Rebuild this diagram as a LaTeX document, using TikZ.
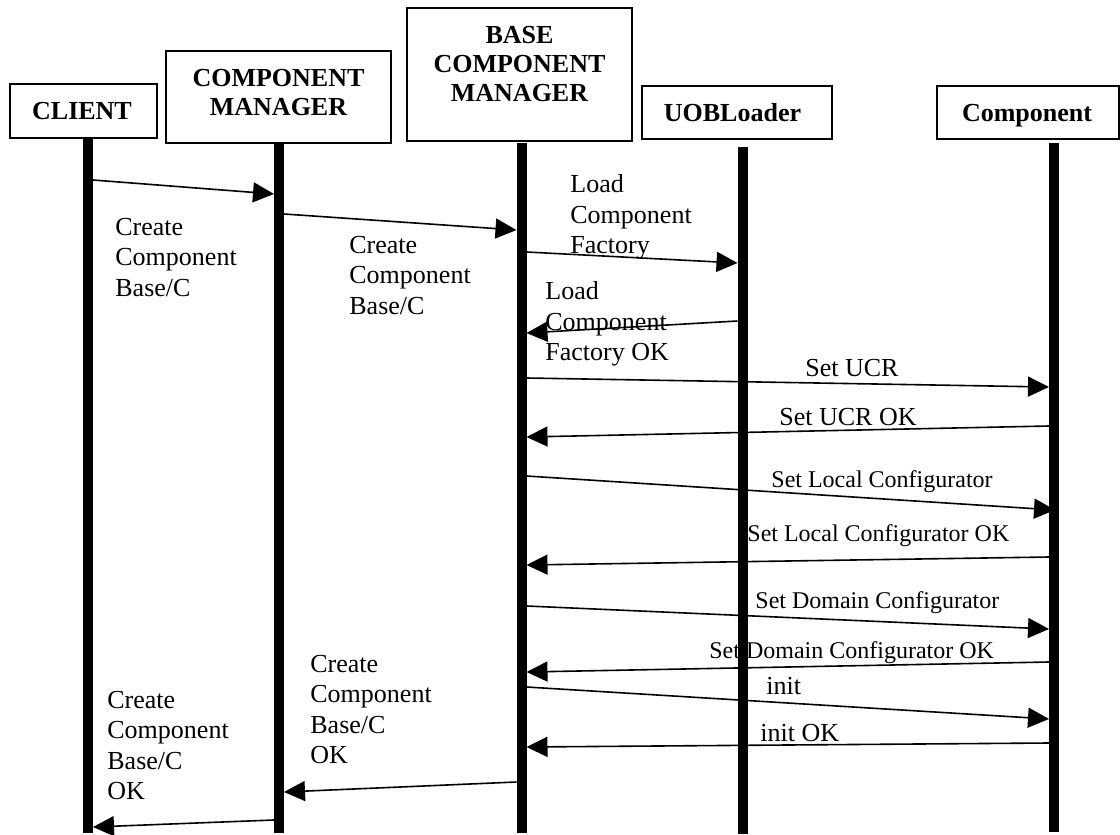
\documentclass[tikz,border=0pt]{standalone}
\usepackage{fontspec}
\setmainfont{Liberation Serif}
\usetikzlibrary{arrows.meta}
\begin{document}
\begin{tikzpicture}[x=0.5pt,y=-0.5pt,
  box/.style={draw, line width=0.8pt, inner sep=0pt},
  hdr/.style={font=\fontsize{13}{14.5}\selectfont\bfseries, align=center, inner sep=0pt},
  lbl/.style={font=\fontsize{13}{15.25}\selectfont, align=left, inner sep=0pt, anchor=north west},
  msg/.style={font=\fontsize{13}{15}\selectfont, inner sep=0pt, anchor=base west},
  msgs/.style={font=\fontsize{12}{14}\selectfont, inner sep=0pt, anchor=base west},
  life/.style={line width=5pt},
  call/.style={line width=0.8pt, -{Triangle[length=10.5pt,width=10pt]}}
]
\useasboundingbox (0,0) rectangle (1120,835);

% header boxes
\node[box, minimum width=73.5pt, minimum height=27pt] (client) at (83.5,111) {};
\node[box, minimum width=112.5pt, minimum height=46pt] (cm) at (278.5,97) {};
\node[box, minimum width=112.5pt, minimum height=66.5pt] (bcm) at (519.5,74.5) {};
\node[box, minimum width=95pt, minimum height=26.5pt] (uob) at (737,112.5) {};
\node[box, minimum width=91pt, minimum height=26.5pt] (comp) at (1028,112.5) {};

\node[hdr, anchor=base] (clientT) at (82,119) {CLIENT};
\node[hdr, anchor=north] (cmT) at (278.5,69) {COMPONENT\\MANAGER};
\node[hdr, anchor=north] (bcmT) at (519.5,26) {BASE\\COMPONENT\\MANAGER};
\node[hdr, anchor=base] (uobT) at (732.5,121) {UOBLoader};
\node[hdr, anchor=base] (compT) at (1027,121) {Component};

% lifelines
\coordinate (lc1) at (88,138);    \coordinate (lc2) at (88,833);
\coordinate (lm1) at (279,143);   \coordinate (lm2) at (279,833);
\coordinate (lb1) at (521.5,143); \coordinate (lb2) at (521.5,833);
\coordinate (lu1) at (742.5,147); \coordinate (lu2) at (742.5,834);
\coordinate (lp1) at (1054,143);  \coordinate (lp2) at (1054,832);
\draw[life] (lc1) -- (lc2);
\draw[life] (lm1) -- (lm2);
\draw[life] (lb1) -- (lb2);
\draw[life] (lu1) -- (lu2);
\draw[life] (lp1) -- (lp2);

% message end points
\coordinate (m1a) at (93,180);      \coordinate (m1b) at (274,194);
\coordinate (m2a) at (284,214);     \coordinate (m2b) at (516.5,230);
\coordinate (m3a) at (526.5,252);   \coordinate (m3b) at (737.5,263);
\coordinate (m4a) at (737.5,321);   \coordinate (m4b) at (526.5,333);
\coordinate (m5a) at (526.5,378);   \coordinate (m5b) at (1049,387);
\coordinate (m6a) at (1049,426);    \coordinate (m6b) at (526.5,437);
\coordinate (m7a) at (526.5,476);   \coordinate (m7b) at (1055,510);
\coordinate (m8a) at (1049,557);    \coordinate (m8b) at (526.5,565);
\coordinate (m9a) at (526.5,606);   \coordinate (m9b) at (1049,629);
\coordinate (m10a) at (1049,662);   \coordinate (m10b) at (526.5,672);
\coordinate (m11a) at (526.5,687);  \coordinate (m11b) at (1049,719);
\coordinate (m12a) at (1049,743);   \coordinate (m12b) at (526.5,747);
\coordinate (m13a) at (516.5,782);  \coordinate (m13b) at (284,792);
\coordinate (m14a) at (274,820);    \coordinate (m14b) at (93,827);

\foreach \i in {1,...,14} {\draw[call] (m\i a) -- (m\i b);}

% labels
\node[lbl] (t1) at (115,217.5) {Create\\Component\\Base/C};
\node[lbl] (t2) at (349,235.5) {Create\\Component\\Base/C};
\node[lbl] (t3) at (570,174.5) {Load\\Component\\Factory};
\node[lbl] (t4) at (545,281.5) {Load\\Component\\Factory OK};
\node[msg] (t5) at (805,376) {Set UCR};
\node[msg] (t6) at (779,425) {Set UCR OK};
\node[msgs] (t7) at (771,487) {Set Local Configurator};
\node[msgs] (t8) at (747,541) {Set Local Configurator OK};
\node[msgs] (t9) at (755,608) {Set Domain Configurator};
\node[msgs] (t10) at (709,658) {Set Domain Configurator OK};
\node[msg] (t11) at (766,694) {init};
\node[msg] (t12) at (760,741) {init OK};
\node[lbl] (t13) at (310,654.5) {Create\\Component\\Base/C\\OK};
\node[lbl] (t14) at (107,690.5) {Create\\Component\\Base/C\\OK};
\end{tikzpicture}
\end{document}
